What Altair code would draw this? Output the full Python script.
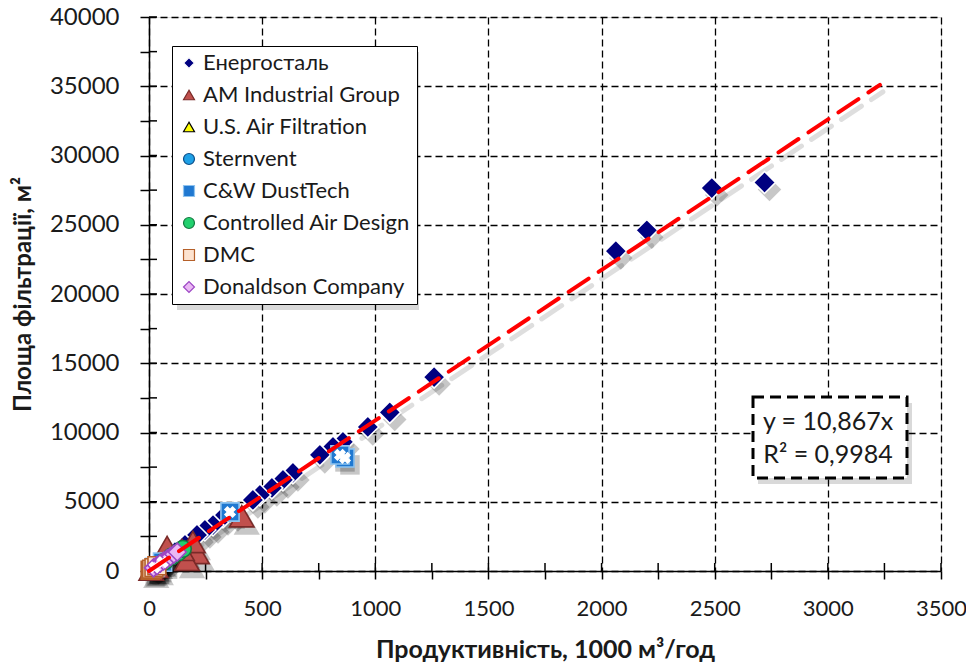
import altair as alt
import pandas as pd

# ---------------- data ----------------
series_names = ["Енергосталь", "AM Industrial Group", "U.S. Air Filtration", "Sternvent",
                "C&W DustTech", "Controlled Air Design", "DMC", "Donaldson Company"]

energ_x = [2720, 2487, 2200, 2063, 1260, 1064, 967, 857, 813, 755, 636, 592, 543, 490, 459,
           371, 327, 283, 247, 212, 159, 115, 71]
energ_y = [28050, 27650, 24600, 23100, 14000, 11450, 10400, 9320, 8960, 8380, 7080, 6575, 5995,
           5490, 5130, 4190, 3900, 3320, 2960, 2600, 1880, 1370, 940]
am_x = [410, 212, 194, 168, 146, 80, 30, 10]
am_y = [3950, 1300, 2095, 800, 1520, 1730, 300, 100]
usaf_x = [15, 30, 45, 60]
usaf_y = [150, 330, 480, 650]
stern_x = [8, 20, 35, 50]
stern_y = [90, 210, 380, 540]
cw_x = [866, 844, 358, 60, 25]
cw_y = [8165, 8380, 4260, 640, 270]
cad_x = [70, 100, 130, 150]
cad_y = [700, 1050, 1350, 1600]
dmc_x = [5, 12, 22, 35]
dmc_y = [60, 130, 240, 380]
don_x = [20, 35, 50, 65, 80, 95, 110, 125]
don_y = [230, 390, 560, 720, 880, 1040, 1210, 1370]

trend_x = [0, 3230]
trend_y = [0, 35100]
eq_line1 = "y = 10,867x"
eq_line2 = "R² = 0,9984"

x_ticks = list(range(0, 3501, 250))
y_ticks = list(range(0, 40001, 2500))

# ---------------- styling ----------------
fills = ["#000080", "#c0504d", "#ffff00", "#1ea0e6", "#1f78d1", "#22d06e", "#fde3d0", "#eab8f4"]
strokes = ["#ffffff", "#7a2a28", "#000000", "#0b4f8a", "#8fc3ef", "#137a40", "#b5602a", "#9c47c4"]
shapes = ["diamond", "triangle-up", "triangle-up", "circle", "square", "circle", "square", "diamond"]
sizes = [480, 600, 280, 240, 330, 280, 320, 320]

all_x = [energ_x, am_x, usaf_x, stern_x, cw_x, cad_x, dmc_x, don_x]
all_y = [energ_y, am_y, usaf_y, stern_y, cw_y, cad_y, dmc_y, don_y]
rows = []
for name, xs, ys in zip(series_names, all_x, all_y):
    for a, b in zip(xs, ys):
        rows.append({"series": name, "x": a, "y": b})
pts = pd.DataFrame(rows)

W, H = 792, 554
xscale = alt.Scale(domain=[0, 3500], nice=False, zero=True)
yscale = alt.Scale(domain=[0, 40000], nice=False, zero=True)

xaxis = alt.Axis(values=x_ticks, title="Продуктивність, 1000 м³/год",
                 labelExpr="datum.value % 500 === 0 ? datum.label : ''",
                 gridOpacity={"condition": {"test": "datum.value % 500 === 0", "value": 1}, "value": 0},
                 grid=True, gridColor="#000000", gridDash=[7, 4], gridWidth=1.3,
                 domainColor="#000000", domainWidth=1.5, tickColor="#000000", tickWidth=1.5, tickSize=8,
                 labelFont="Lato", labelFontSize=22, labelColor="#1a1a1a",
                 labelPadding=19, labelFlush=False,
                 titleFont="Lato", titleFontSize=25, titleFontWeight="bold",
                 titleColor="#1a1a1a", titlePadding=18, format="d")
yaxis = alt.Axis(values=y_ticks, title="Площа фільтрації, м²",
                 labelExpr="datum.value % 5000 === 0 ? datum.label : ''",
                 gridOpacity={"condition": {"test": "datum.value % 5000 === 0", "value": 1}, "value": 0},
                 grid=True, gridColor="#000000", gridDash=[7, 4], gridWidth=1.3,
                 domainColor="#000000", domainWidth=1.5, tickColor="#000000", tickWidth=1.5, tickSize=9,
                 labelFont="Lato", labelFontSize=24, labelColor="#1a1a1a", labelPadding=21,
                 titleFont="Lato", titleFontSize=24, titleFontWeight="bold",
                 titleColor="#1a1a1a", titlePadding=14, format="d")

legend = alt.Legend(title=None, orient="none", legendX=23, legendY=29,
                    labelFont="Lato", labelFontSize=22, labelColor="#1a1a1a",
                    symbolSize=120, symbolStrokeWidth=1.2, rowPadding=10, padding=6,
                    labelOffset=3, strokeColor="#000000", fillColor="#ffffff",
                    labelLimit=400)

X = alt.X("x:Q", scale=xscale, axis=xaxis)
Y = alt.Y("y:Q", scale=yscale, axis=yaxis)
FILL = alt.Fill("series:N", scale=alt.Scale(domain=series_names, range=fills), legend=legend)
STROKE = alt.Stroke("series:N", scale=alt.Scale(domain=series_names, range=strokes), legend=legend)
SHAPE = alt.Shape("series:N", scale=alt.Scale(domain=series_names, range=shapes), legend=legend)

# one layer per series (constant size), series order = drawing order
point_layers = []
shadow_layers = []
for name, shp, sz in zip(series_names, shapes, sizes):
    point_layers.append(
        alt.Chart(pts).transform_filter(alt.datum.series == name).mark_point(
            filled=True, strokeWidth=1.6, opacity=1, size=sz).encode(
            x=X, y=Y, fill=FILL, stroke=STROKE, shape=SHAPE)
    )
    shadow_layers.append(
        alt.Chart(pts).transform_filter(alt.datum.series == name).mark_point(
            filled=True, color="#000000", opacity=0.22, shape=shp, size=sz * 1.15,
            xOffset=5, yOffset=7, strokeWidth=0).encode(x=X, y=Y)
    )

# white X overlay on C&W DustTech markers
cw_cross = alt.Chart(pts).transform_filter(alt.datum.series == "C&W DustTech").mark_point(
    shape="cross", angle=45, filled=True, color="#ffffff", size=150, opacity=1, strokeWidth=0
).encode(x=X, y=Y)

trend_df = pd.DataFrame({"x": trend_x, "y": trend_y})
trend_shadow = alt.Chart(trend_df).mark_line(color="#000000", opacity=0.13, strokeWidth=5,
                                             strokeDash=[24, 12], xOffset=3, yOffset=7,
                                             strokeCap="round").encode(x=X, y=Y)
trend = alt.Chart(trend_df).mark_line(color="#ff0000", strokeWidth=4, strokeDash=[24, 12],
                                      strokeCap="round").encode(x=X, y=Y)

# inward half of crossing ticks
xt = alt.Chart(pd.DataFrame({"x": x_ticks})).mark_rule(color="#000000", strokeWidth=1.5).encode(
    x=X, y=alt.value(H), y2=alt.value(H - 8))
yt = alt.Chart(pd.DataFrame({"y": y_ticks})).mark_rule(color="#000000", strokeWidth=1.5).encode(
    y=Y, x=alt.value(0), x2=alt.value(8))

# equation box and legend shadow
one = pd.DataFrame({"k": [0]})
legend_shadow = alt.Chart(one).mark_rect(fill="#000000", opacity=0.15).encode(
    x=alt.value(28), x2=alt.value(270), y=alt.value(35), y2=alt.value(293))
box_shadow = alt.Chart(one).mark_rect(fill="#000000", opacity=0.15).encode(
    x=alt.value(609), x2=alt.value(763), y=alt.value(386), y2=alt.value(467))
box = alt.Chart(one).mark_rect(fill="#ffffff", stroke="#000000", strokeWidth=3,
                               strokeDash=[11, 6]).encode(
    x=alt.value(604), x2=alt.value(758), y=alt.value(380), y2=alt.value(461))
eq1 = alt.Chart(one).mark_text(font="Lato", fontSize=25, color="#1a1a1a", align="center",
                               baseline="middle", text=eq_line1).encode(
    x=alt.value(679), y=alt.value(405))
eq2 = alt.Chart(one).mark_text(font="Lato", fontSize=25, color="#1a1a1a", align="center",
                               baseline="middle", text=eq_line2).encode(
    x=alt.value(679), y=alt.value(438))

chart = alt.layer(xt, yt, legend_shadow, trend_shadow, *shadow_layers, *point_layers, cw_cross,
                  trend, box_shadow, box, eq1, eq2).properties(
    width=W, height=H,
    autosize=alt.AutoSizeParams(type="none"),
    padding={"left": 141, "top": 9, "right": 25, "bottom": 100},
).configure_view(stroke="#000000", strokeWidth=1.5).configure(background="#ffffff")

chart.save("out.html", embed_options={"renderer": "svg", "actions": False})
